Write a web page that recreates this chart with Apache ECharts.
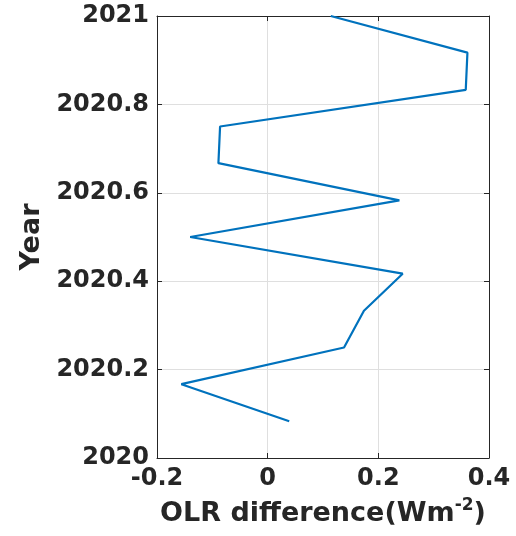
<!DOCTYPE html>
<html>
<head>
<meta charset="utf-8">
<script src="https://cdn.jsdelivr.net/npm/echarts@6/dist/echarts.min.js"></script>
<style>html,body{margin:0;padding:0;background:#fff;}#c{width:516px;height:536px;}</style>
</head>
<body>
<div id="c"></div>
<script>
var olrDiff = [0.039, -0.156, 0.138, 0.174, 0.244, -0.140, 0.238, -0.089, -0.086, 0.358, 0.361, 0.114];
var years = [2020.083, 2020.167, 2020.250, 2020.333, 2020.417, 2020.500, 2020.583, 2020.667, 2020.750, 2020.833, 2020.917, 2021.000];
var xTicks = [-0.2, 0, 0.2, 0.4];
var yTicks = [2020, 2020.2, 2020.4, 2020.6, 2020.8, 2021];

var pts = olrDiff.map(function (v, i) { return [v, years[i]]; });
var txt = '#262626';
var lab = {color: txt, fontFamily: 'DejaVu Sans', fontWeight: 'bold', fontSize: 24};
var chart = echarts.init(document.getElementById('c'));
chart.setOption({
  animation: false,
  grid: {left: 157, right: 27, top: 16, bottom: 78, containLabel: false},
  xAxis: [{
    type: 'value', min: -0.2, max: 0.4, interval: 0.2, position: 'bottom',
    name: '{a|OLR difference(Wm}{s|-2}{a|)}', nameLocation: 'middle', nameGap: 39,
    nameTextStyle: {rich: {
      a: {color: txt, fontFamily: 'DejaVu Sans', fontWeight: 'bold', fontSize: 27},
      s: {color: txt, fontFamily: 'DejaVu Sans', fontWeight: 'bold', fontSize: 17, verticalAlign: 'top', padding: [0, 0, 16, 0]}
    }},
    axisLine: {show: true, lineStyle: {color: txt, width: 1}},
    axisTick: {show: true, inside: true, length: 5, lineStyle: {color: txt}},
    axisLabel: Object.assign({margin: 9, formatter: function (v) { return xTicks.indexOf(+v.toFixed(1)) >= 0 ? String(+v.toFixed(1)) : ''; }}, lab),
    splitLine: {show: true, lineStyle: {color: '#dfdfdf', width: 1}}
  }, {
    type: 'value', min: -0.2, max: 0.4, interval: 0.2, position: 'top',
    axisLine: {show: true, onZero: false, lineStyle: {color: txt, width: 1}},
    axisTick: {show: true, inside: true, length: 5, lineStyle: {color: txt}},
    axisLabel: {show: false}, splitLine: {show: false}
  }],
  yAxis: [{
    type: 'value', min: 2020, max: 2021, interval: 0.2, position: 'left',
    name: 'Year', nameLocation: 'middle', nameGap: 110, nameRotate: 90,
    nameTextStyle: {color: txt, fontFamily: 'DejaVu Sans', fontWeight: 'bold', fontSize: 27},
    axisLine: {show: true, onZero: false, lineStyle: {color: txt, width: 1}},
    axisTick: {show: true, inside: true, length: 5, lineStyle: {color: txt}},
    axisLabel: Object.assign({margin: 8, formatter: function (v) { var r = +v.toFixed(1); return yTicks.indexOf(r) >= 0 ? String(r) : ''; }}, lab),
    splitLine: {show: true, lineStyle: {color: '#dfdfdf', width: 1}}
  }, {
    type: 'value', min: 2020, max: 2021, interval: 0.2, position: 'right',
    axisLine: {show: true, onZero: false, lineStyle: {color: txt, width: 1}},
    axisTick: {show: true, inside: true, length: 5, lineStyle: {color: txt}},
    axisLabel: {show: false}, splitLine: {show: false}
  }],
  series: [{
    type: 'line', data: pts, xAxisIndex: 0, yAxisIndex: 0,
    showSymbol: false, symbol: 'none',
    lineStyle: {color: '#0072BD', width: 2.2}, clip: false
  }]
});
</script>
</body>
</html>
